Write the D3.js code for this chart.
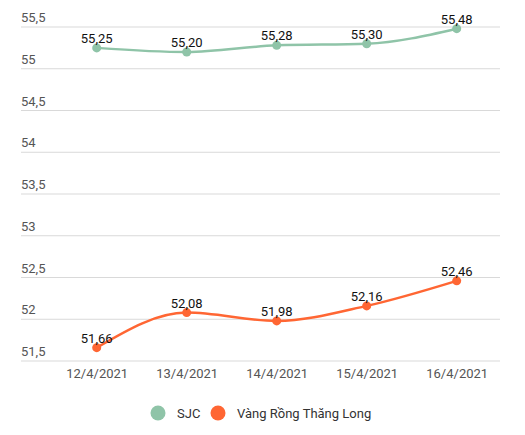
<!DOCTYPE html>
<html>
<head>
<meta charset="utf-8">
<script src="https://cdn.jsdelivr.net/npm/d3@7"></script>
<style>
  body { margin: 0; background: #fff; }
  svg { font-family: Roboto, "Noto Sans", sans-serif; }
</style>
</head>
<body>
<svg id="chart"></svg>
<script>
const svgWidth = 525;
const svgHeight = 435;

const dates = ["12/4/2021", "13/4/2021", "14/4/2021", "15/4/2021", "16/4/2021"];
const sjc = [55.25, 55.20, 55.28, 55.30, 55.48];
const rong = [51.66, 52.08, 51.98, 52.16, 52.46];
const yTicks = [51.5, 52, 52.5, 53, 53.5, 54, 54.5, 55, 55.5];
const seriesNames = ["SJC", "Vàng Rồng Thăng Long"];
const colors = ["#8fc4a8", "#ff6633"];

const fmt = (v, digits) => v.toFixed(digits).replace(".", ",");
const tickFmt = v => (Number.isInteger(v) ? String(v) : fmt(v, 1));

const svg = d3.select("#chart")
  .attr("width", svgWidth)
  .attr("height", svgHeight);

const x = d3.scalePoint().domain(dates).range([96.7, 456.7]);
const y = d3.scaleLinear().domain([51.5, 55.5]).range([361, 27]);

// grid lines + y labels
const grid = svg.append("g");
grid.selectAll("line")
  .data(yTicks)
  .enter().append("line")
  .attr("x1", 21).attr("x2", 500)
  .attr("y1", d => y(d)).attr("y2", d => y(d))
  .attr("stroke", "#d9d9d9")
  .attr("stroke-width", 1);

grid.selectAll("text")
  .data(yTicks)
  .enter().append("text")
  .attr("x", 21)
  .attr("y", d => y(d) - 5)
  .attr("fill", "#555")
  .attr("font-size", 13)
  .text(tickFmt);

// x axis labels
const xAxis = svg.append("g")
  .attr("transform", "translate(0,378)")
  .call(d3.axisBottom(x).tickSize(0).tickPadding(0));
xAxis.select(".domain").remove();
xAxis.selectAll("text")
  .attr("dy", 0)
  .attr("fill", "#555")
  .attr("font-size", 13)
  .attr("font-family", "Roboto, sans-serif");

const line = d3.line()
  .x((d, i) => x(dates[i]))
  .y(d => y(d))
  .curve(d3.curveMonotoneX);

[sjc, rong].forEach((values, s) => {
  const g = svg.append("g");
  g.append("path")
    .datum(values)
    .attr("fill", "none")
    .attr("stroke", colors[s])
    .attr("stroke-width", 2.5)
    .attr("d", line);

  g.selectAll("circle")
    .data(values)
    .enter().append("circle")
    .attr("cx", (d, i) => x(dates[i]))
    .attr("cy", d => y(d))
    .attr("r", 4.5)
    .attr("fill", colors[s]);

  g.selectAll("text")
    .data(values)
    .enter().append("text")
    .attr("x", (d, i) => x(dates[i]))
    .attr("y", d => y(d) - 5)
    .attr("text-anchor", "middle")
    .attr("fill", "#111")
    .attr("font-size", 13)
    .text(d => fmt(d, 2));
});

// legend
const legendX = [158, 218];
const legend = svg.append("g");
seriesNames.forEach((name, s) => {
  legend.append("circle")
    .attr("cx", legendX[s])
    .attr("cy", 413)
    .attr("r", 7.5)
    .attr("fill", colors[s]);
  legend.append("text")
    .attr("x", legendX[s] + 19)
    .attr("y", 418)
    .attr("fill", "#333")
    .attr("font-size", 13)
    .text(name);
});
</script>
</body>
</html>
